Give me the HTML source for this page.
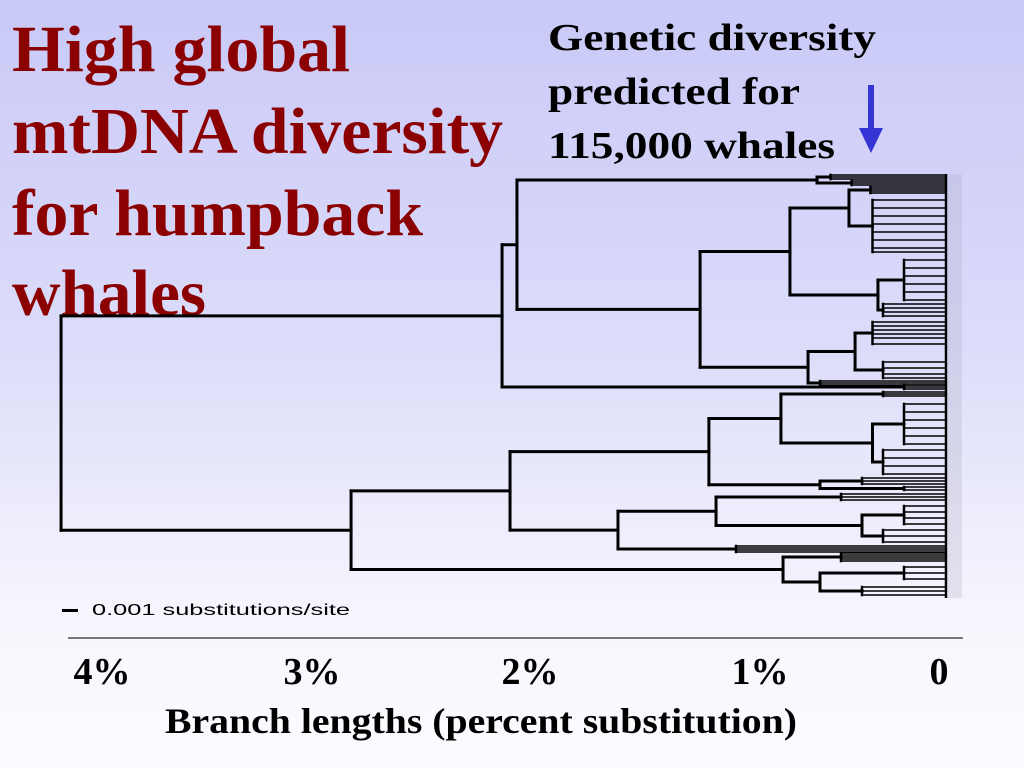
<!DOCTYPE html>
<html><head><meta charset="utf-8">
<style>
html,body{margin:0;padding:0;}
body{width:1024px;height:768px;overflow:hidden;background:linear-gradient(#c9c9f8 0%,#dcdcfa 45%,#f6f6fe 80%,#fbfbff 100%);}
svg{position:absolute;left:0;top:0;}
.t{font-family:"Liberation Serif",serif;font-weight:bold;}
</style></head>
<body>
<svg id="chart" width="1024" height="768">
  <g class="t" fill="#8b0000" font-size="66">
    <text x="12" y="71" textLength="338" lengthAdjust="spacingAndGlyphs">High global</text>
    <text x="12" y="153" textLength="491" lengthAdjust="spacingAndGlyphs">mtDNA diversity</text>
    <text x="12" y="235" textLength="411" lengthAdjust="spacingAndGlyphs">for humpback</text>
    <text x="12" y="315" textLength="194" lengthAdjust="spacingAndGlyphs">whales</text>
  </g>
  <g class="t" fill="#000" font-size="38">
    <text x="548" y="50" textLength="328" lengthAdjust="spacingAndGlyphs">Genetic diversity</text>
    <text x="548" y="104" textLength="252" lengthAdjust="spacingAndGlyphs">predicted for</text>
    <text x="548" y="158" textLength="287" lengthAdjust="spacingAndGlyphs">115,000 whales</text>
  </g>
  <g fill="#3535d5">
    <rect x="868" y="85" width="6" height="48"/>
    <polygon points="859,128 883,128 871,153"/>
  </g>
  <g id="tree"></g>
  <rect x="948" y="174" width="14" height="424" fill="#a0a0b0" opacity="0.22"/>
  <line x1="946" y1="174" x2="946" y2="598" stroke="#000" stroke-width="2.5"/>
  <g>
    <rect x="62" y="609" width="16" height="3" fill="#000"/>
    <text x="92" y="615" font-family="Liberation Sans,sans-serif" font-size="16" textLength="258" lengthAdjust="spacingAndGlyphs">0.001 substitutions/site</text>
  </g>
  <line x1="68" y1="638" x2="963" y2="638" stroke="#777" stroke-width="2"/>
  <g id="ticks" class="t" font-size="38"></g>
  <text x="165" y="733" class="t" font-size="36" textLength="632" lengthAdjust="spacingAndGlyphs">Branch lengths (percent substitution)</text>
</svg>
<script>
// tick labels
const tickLabels = ["4%","3%","2%","1%","0"];
const tickCenters = [102, 312, 530, 760, 939];
// tree: internal node ages (percent substitution) and clade tips (row y)
const rootAge = 4.214;
const upperAges = [2.114, 2.043, 0.614, 1.171, 0.743, 0.462, 0.324, 0.657, 0.433];
const lowerAges = [2.833, 2.076, 1.129, 0.786, 0.35, 0.6, 1.562, 1.095, 0.4, 0.776];

function N(a, c){ return {a:a, c:c}; }
function C(a, tips){ return {a:a, tips:tips}; }

const tree = N(rootAge, [
  N(upperAges[0], [
    N(upperAges[1], [
      N(upperAges[2], [C(0.55,[175,177,179]), C(0.45,[181,183,185])]),
      N(upperAges[3], [
        N(upperAges[4], [
          N(upperAges[5], [C(0.36,[187,189,191,193]), C(0.35,[200,208,216,224,232,240,248,252])]),
          N(upperAges[6], [C(0.2,[260,268,276,284,292,300]), C(0.3,[304,308,312,316])])
        ]),
        N(upperAges[7], [
          N(upperAges[8], [C(0.35,[322,326,330,334,338,344]), C(0.3,[362,368,374,378])]),
          C(0.6,[381,383,385])
        ])
      ])
    ]),
    C(0.2,[385,387,389])
  ]),
  N(lowerAges[0], [
    N(lowerAges[1], [
      N(lowerAges[2], [
        N(lowerAges[3], [C(0.3,[392,394,396]), N(lowerAges[4], [C(0.2,[404,412,420,428,436,444]), C(0.3,[450,458,466,474])])]),
        N(lowerAges[5], [C(0.4,[478,481,484]), C(0.2,[487,490])])
      ]),
      N(lowerAges[6], [
        N(lowerAges[7], [C(0.5,[494,497,500]), N(lowerAges[8], [C(0.2,[506,512,518,524]), C(0.3,[530,536,542])])]),
        C(1.0,[546,548,550,552])
      ])
    ]),
    N(lowerAges[9], [C(0.5,[553,555,557,559,561]), N(0.6, [C(0.2,[567,573,579]), C(0.4,[587,591,595])])])
  ])
]);

const NS = "http://www.w3.org/2000/svg";
const g = document.getElementById('tree');
function xOf(age){ return 946 - age * 210; }
function line(x1,y1,x2,y2,w,name){
  const l = document.createElementNS(NS,'line');
  l.setAttribute('x1',x1); l.setAttribute('y1',y1); l.setAttribute('x2',x2); l.setAttribute('y2',y2);
  l.setAttribute('stroke','#000'); l.setAttribute('stroke-width',w); l.setAttribute('stroke-linecap','square');
  
  
  g.appendChild(l);
}
function draw(n){
  const x = xOf(n.a);
  if(n.tips){
    const y0 = n.tips[0], y1 = n.tips[n.tips.length-1];
    line(x,y0,x,y1,2.5,'clade-node');
    n.tips.forEach(t => line(x,t,xOf(0),t,1.6,'tip-branch'));
    return (y0+y1)/2;
  }
  const ys = n.c.map(ch => {
    const y = draw(ch);
    line(x,y,xOf(ch.a),y,3,'branch');
    return y;
  });
  line(x,ys[0],x,ys[ys.length-1],3,'node');
  return (ys[0]+ys[ys.length-1])/2;
}
const rootY = draw(tree);

const tk = document.getElementById('ticks');
tickLabels.forEach((lab,i) => {
  const t = document.createElementNS(NS,'text');
  t.setAttribute('x', tickCenters[i]); t.setAttribute('y', 684);
  t.setAttribute('text-anchor','middle');
  
  
  t.textContent = lab;
  tk.appendChild(t);
});
</script>
</body></html>
